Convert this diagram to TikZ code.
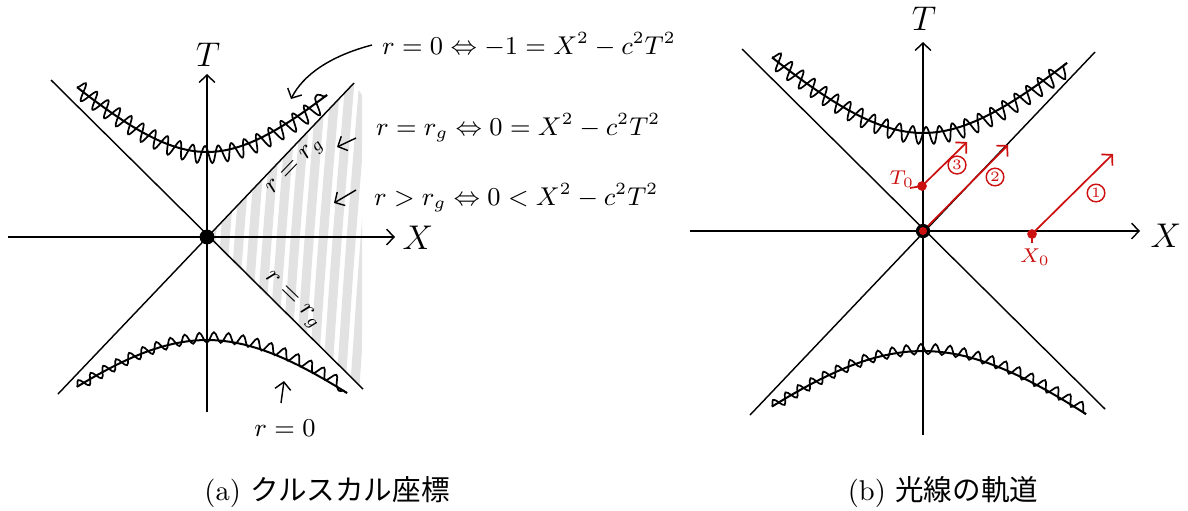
\documentclass[tikz,border=0pt]{standalone}
\usepackage{amsmath}
\usepackage{fontspec}
\usetikzlibrary{calc, positioning, arrows.meta, decorations.pathmorphing}
\newfontfamily\jpfont{Noto Sans CJK JP}
\definecolor{raycol}{RGB}{204,16,16}
\definecolor{hatchcol}{RGB}{226,226,226}

\begin{document}
\begin{tikzpicture}[x=0.35pt, y=-0.35pt,
  >={Straight Barb[length=2.6pt,width=5.5pt]},
  axis/.style={line width=0.5pt, ->},
  cone/.style={line width=0.5pt},
  sing/.style={line width=0.7pt},
  wiggle/.style={line width=0.6pt, decorate,
    decoration={snake, amplitude=#1, segment length=5pt}},
  hand/.style={font=\small},
  ray/.style={raycol, line width=0.6pt, ->},
  num/.style={circle, draw=raycol, text=raycol, line width=0.5pt,
    inner sep=0.5pt, font=\tiny}]
  \useasboundingbox (0,0) rectangle (1188,510);

  % (a) Kruskal diagram
  \coordinate (Oa) at (207,237);

  % Region r > r_g (grey hatching)
  \begin{scope}
    \clip (Oa) -- (354,83) -- (362,95) -- (362,389) -- cycle;
    \foreach \x in {214,228,...,372}
      \draw[hatchcol, line width=3.2pt, line cap=round]
        (\x-14,400) .. controls (\x-4,250) .. (\x+10,80);
  \end{scope}

  % Light cone r = r_g
  \draw[cone] (51,80) -- (363,389);
  \draw[cone] (58,394) -- (354,83);

  % Axes
  \draw[axis] (8,237) -- (395,237);
  \draw[axis] (207,412) -- (207,74);
  \node[font=\large] (Xa) at (418,238) {$X$};
  \node[font=\large] (Ta) at (208,55) {$T$};

  % Singularity r = 0
  \draw[sing] plot[domain=-130:120, samples=40]
    ({207+\x},{237-10*sqrt(72.25+0.9*(\x/10)*(\x/10))});
  \draw[wiggle=3pt] plot[domain=-130:120, samples=40]
    ({207+\x},{237-10*sqrt(72.25+0.9*(\x/10)*(\x/10))});
  \draw[sing] plot[domain=-130:140, samples=40]
    ({207+\x},{237+10*sqrt(106.09+0.7*(\x/10)*(\x/10))});
  \draw[wiggle=1.8pt] plot[domain=-130:140, samples=40]
    ({207+\x},{237+10*sqrt(106.09+0.7*(\x/10)*(\x/10))});

  \fill (Oa) circle (2.6pt);

  % Labels
  \node[hand, anchor=west] (eq0) at (372,45) {$r=0 \Leftrightarrow -1 = X^2-c^2T^2$};
  \node[hand, anchor=west] (eq1) at (366,128) {$r=r_g \Leftrightarrow 0 = X^2-c^2T^2$};
  \node[hand, anchor=west] (eq2) at (364,198) {$r>r_g \Leftrightarrow 0 < X^2-c^2T^2$};
  \node[hand, rotate=46, inner sep=1pt] (hor1) at (296,167) {$r=r_g$};
  \node[hand, rotate=-44, inner sep=1pt] (hor2) at (292,301) {$r=r_g$};
  \node[hand] (r0) at (285,428) {$r=0$};

  \coordinate (a0) at (291,99);
  \coordinate (a1s) at (356,138);
  \coordinate (a1) at (337,147);
  \coordinate (a2s) at (356,190);
  \coordinate (a2) at (334,203);
  \coordinate (a3s) at (281,403);
  \coordinate (a3) at (284,381);
  \draw[->, line width=0.5pt] (eq0.west) .. controls (330,56) and (303,75) .. (a0);
  \draw[->, line width=0.5pt] (a1s) -- (a1);
  \draw[->, line width=0.5pt] (a2s) -- (a2);
  \draw[->, line width=0.5pt] (a3s) -- (a3);

  % (b) light rays
  \coordinate (Ob) at (923,231);

  \draw[cone] (742,49) -- (1105,409);
  \draw[cone] (750,415) -- (1095,52);

  \draw[axis] (690,231) -- (1140,231);
  \draw[axis] (923,435) -- (923,42);
  \node[font=\large] (Xb) at (1166,236) {$X$};
  \node[font=\large] (Tb) at (924,19) {$T$};

  \draw[sing] plot[domain=-151:144, samples=40]
    ({923+\x},{231-10*sqrt(96.04+0.9*(\x/10)*(\x/10))});
  \draw[wiggle=3pt] plot[domain=-151:144, samples=40]
    ({923+\x},{231-10*sqrt(96.04+0.9*(\x/10)*(\x/10))});
  \draw[sing] plot[domain=-151:163, samples=40]
    ({923+\x},{231+10*sqrt(144+0.72*(\x/10)*(\x/10))});
  \draw[wiggle=1.8pt] plot[domain=-151:163, samples=40]
    ({923+\x},{231+10*sqrt(144+0.72*(\x/10)*(\x/10))});

  % Start points
  \coordinate (T0) at (922,186);
  \coordinate (X0) at (1032,234);
  \coordinate (e1) at (1113,154);
  \coordinate (e2) at (1008,145);
  \coordinate (e3) at (967,142);

  \draw[raycol, line width=0.6pt] (T0) -- ++(-12,2);
  \draw[raycol, line width=0.6pt] (X0) -- ++(0,9);
  \draw[ray] (X0) -- (e1);
  \draw[ray] (Ob) -- (e2);
  \draw[ray] (T0) -- (e3);

  \fill (Ob) circle (2.5pt);
  \fill[raycol] (Ob) circle (1.4pt);
  \fill[raycol] (T0) circle (1.7pt);
  \fill[raycol] (X0) circle (1.7pt);

  \node[text=raycol, font=\scriptsize] (T0lab) at (902,179) {$T_0$};
  \node[text=raycol, font=\scriptsize] (X0lab) at (1035,257) {$X_0$};
  \node[num] (n1) at (1096,193) {1};
  \node[num] (n2) at (995,177) {2};
  \node[num] (n3) at (957,165) {3};

  % Captions
  \node (capa) at (327,492) {(a) {\jpfont クルスカル座標}};
  \node (capb) at (943,492) {(b) {\jpfont 光線の軌道}};
\end{tikzpicture}
\end{document}
